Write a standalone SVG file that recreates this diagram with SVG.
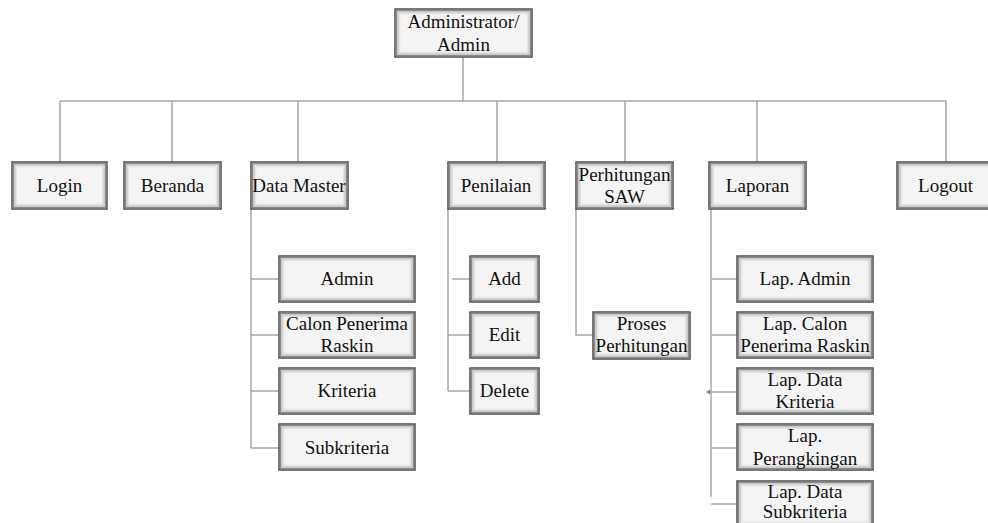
<svg xmlns="http://www.w3.org/2000/svg" width="988" height="523" viewBox="0 0 988 523">
<style>
.box{fill:#f4f4f4;stroke:#4a4a4a;stroke-width:1.5}
.in1{fill:none;stroke:#8a8a8a;stroke-width:1.5}
.in2{fill:none;stroke:#c4c4c4;stroke-width:1.5}
.in3{fill:none;stroke:#e4e4e4;stroke-width:1.5}
.t{font-size:19px;fill:#111;text-anchor:middle}
.c{fill:none;stroke:#a6a6a6;stroke-width:1.5}
</style>
<defs>
<g id="b136"><rect class="box" x="0" y="0" width="136" height="46"/><rect class="in1" x="1.5" y="1.5" width="133" height="43"/><rect class="in2" x="3" y="3" width="130" height="40"/><rect class="in3" x="4.5" y="4.5" width="127" height="37"/></g>
<g id="b97"><rect class="box" x="0" y="0" width="97" height="47"/><rect class="in1" x="1.5" y="1.5" width="94" height="44"/><rect class="in2" x="3" y="3" width="91" height="41"/><rect class="in3" x="4.5" y="4.5" width="88" height="38"/></g>
<g id="b69"><rect class="box" x="0" y="0" width="69" height="46"/><rect class="in1" x="1.5" y="1.5" width="66" height="43"/><rect class="in2" x="3" y="3" width="63" height="40"/><rect class="in3" x="4.5" y="4.5" width="60" height="37"/></g>
</defs>
<rect width="988" height="523" fill="#fff"/>
<g id="connectors">
<path class="c" d="M463 57V101M60 101H946M60 101V162M172 101V162M298 101V162M497 101V162M625 101V162M757 101V162M946 101V162"/>
<path class="c" d="M251 209V448M251 279H279M251 335H279M251 391H279M251 448H279"/>
<path class="c" d="M448 209V391M452 279H470M448 335H470M448 391H470"/>
<path class="c" d="M576 209V335H593"/>
<path class="c" d="M711 209V497M712 279H737M712 335H737M708 392H737M712 448H737M711 504H737"/>
<path d="M706 392L710 389.5V394.5Z" fill="#888"/>
</g>
<g font-family="Liberation Serif, Tinos, Times New Roman, Times, Noto Serif, FreeSerif, Nimbus Roman, DejaVu Serif, serif">
<g id="n-admin-root"><rect class="box" x="395" y="9" width="137" height="48"/><rect class="in1" x="396.5" y="10.5" width="134" height="45"/><rect class="in2" x="398" y="12" width="131" height="42"/><rect class="in3" x="399.5" y="13.5" width="128" height="39"/><text class="t" x="463.5" y="28">Administrator/</text><text class="t" x="463.5" y="51">Admin</text></g>
<g id="n-login"><use href="#b97" transform="translate(12 162) scale(0.979 1)"/><text class="t" x="59.5" y="192">Login</text></g>
<g id="n-beranda"><use href="#b97" x="124" y="162"/><text class="t" x="172.5" y="192">Beranda</text></g>
<g id="n-datamaster"><use href="#b97" x="251" y="162"/><text class="t" x="299" y="192">Data Master</text></g>
<g id="n-penilaian"><use href="#b97" x="448" y="162"/><text class="t" x="496" y="192">Penilaian</text></g>
<g id="n-saw"><use href="#b97" x="576" y="162"/><text class="t" x="624.5" y="181">Perhitungan</text><text class="t" x="624.5" y="203">SAW</text></g>
<g id="n-laporan"><use href="#b97" x="709" y="162"/><text class="t" x="757.5" y="192">Laporan</text></g>
<g id="n-logout"><use href="#b97" x="897" y="162"/><text class="t" x="945.5" y="192">Logout</text></g>
<g id="n-dm-admin"><use href="#b136" x="279" y="256"/><text class="t" x="347" y="285">Admin</text></g>
<g id="n-dm-calon"><use href="#b136" x="279" y="312"/><text class="t" x="347" y="330">Calon Penerima</text><text class="t" x="347" y="352">Raskin</text></g>
<g id="n-dm-kriteria"><use href="#b136" x="279" y="368"/><text class="t" x="347" y="397">Kriteria</text></g>
<g id="n-dm-sub"><use href="#b136" x="279" y="424"/><text class="t" x="347" y="454">Subkriteria</text></g>
<g id="n-add"><use href="#b69" x="470" y="256"/><text class="t" x="504.5" y="285">Add</text></g>
<g id="n-edit"><use href="#b69" x="470" y="312"/><text class="t" x="504.5" y="341">Edit</text></g>
<g id="n-delete"><use href="#b69" x="470" y="368"/><text class="t" x="504.5" y="397">Delete</text></g>
<g id="n-proses"><use href="#b97" x="593" y="312"/><text class="t" x="641.5" y="330">Proses</text><text class="t" x="641.5" y="352">Perhitungan</text></g>
<g id="n-lap-admin"><use href="#b136" x="737" y="256"/><text class="t" x="805" y="285">Lap. Admin</text></g>
<g id="n-lap-calon"><use href="#b136" x="737" y="312"/><text class="t" x="805" y="330">Lap. Calon</text><text class="t" x="805" y="352">Penerima Raskin</text></g>
<g id="n-lap-kriteria"><use href="#b136" x="737" y="368"/><text class="t" x="805" y="386">Lap. Data</text><text class="t" x="805" y="408">Kriteria</text></g>
<g id="n-lap-rank"><use href="#b136" x="737" y="424"/><text class="t" x="805" y="442">Lap.</text><text class="t" x="805" y="465">Perangkingan</text></g>
<g id="n-lap-sub"><use href="#b136" x="737" y="481"/><text class="t" x="805" y="498">Lap. Data</text><text class="t" x="805" y="518">Subkriteria</text></g>
</g>
</svg>
